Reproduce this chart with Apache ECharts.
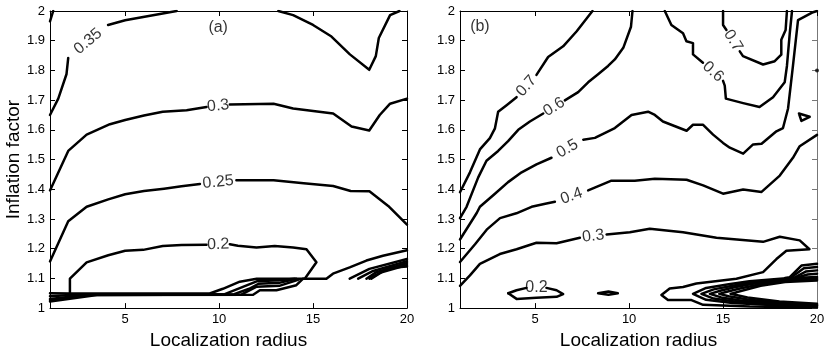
<!DOCTYPE html>
<html>
<head>
<meta charset="utf-8">
<script src="https://cdn.jsdelivr.net/npm/echarts@6/dist/echarts.min.js"></script>
<style>
html,body{margin:0;padding:0;background:#fff;}
#c{width:830px;height:355px;}
</style>
</head>
<body>
<div id="c"></div>
<script>
// ---- axis ticks ----
const xTicks = [5, 10, 15, 20];
const xRange = [1, 20];
const yRange = [1, 2];
const yStep = 0.1;
const xTitle = 'Localization radius';
const yTitle = 'Inflation factor';
const panelTags = ['(a)', '(b)'];
const panelTagPos = [[9.95, 1.945], [2.06, 1.947]];

// ---- panel (a) contour lines: [radius, inflation]; null marks a label gap ----
const a_040 = [[1.0,1.965],[1.17,2.0]];
const a_035 = [[1.0,1.65],[1.44,1.705],[1.88,1.788],[1.97,1.842],null,[4.09,1.953],[5.0,1.969],[5.96,1.98],[7.74,2.0]];
const a_035b = [[13.15,2.0],[13.94,1.986],[15.0,1.953],[15.98,1.914],[16.96,1.854],[17.99,1.802],[18.34,1.848],[18.5,1.909],[19.1,1.986],[19.6,2.0]];
const a_030 = [[1.0,1.396],[1.97,1.529],[2.95,1.584],[4.19,1.619],[5.0,1.633],[6.0,1.648],[7.0,1.661],[8.27,1.666],[9.33,1.677],null,[10.57,1.685],[12.9,1.688],[13.94,1.672],[16.07,1.655],[17.05,1.611],[17.99,1.598],[18.55,1.65],[19.1,1.688],[20.0,1.705]];
const a_025 = [[1.0,1.157],[1.97,1.292],[2.95,1.341],[4.1,1.366],[5.0,1.383],[6.0,1.394],[7.07,1.402],[8.0,1.41],[8.98,1.418],null,[10.92,1.43],[12.9,1.43],[14.5,1.42],[16.07,1.411],[17.0,1.394],[18.0,1.393],[19.0,1.344],[20.0,1.281]];
const a_020 = [[2.06,1.049],[2.06,1.099],[2.95,1.154],[4.1,1.178],[5.0,1.193],[5.96,1.196],[7.0,1.209],[8.0,1.212],[9.33,1.213],null,[10.57,1.215],[11.0,1.21],[11.99,1.204],[12.96,1.209],[13.94,1.204],[14.65,1.198],[15.18,1.154],[14.56,1.099]];
const a_b1 = [[1.0,1.05],[2.1,1.049],[9.5,1.049],[10.2,1.065],[11.1,1.089],[12.0,1.099],[15.71,1.099],[16.06,1.116],[16.95,1.137],[17.84,1.16],[18.72,1.176],[20.0,1.195]];
const a_b2 = [[1.0,1.04],[2.5,1.046],[10.3,1.047],[11.2,1.07],[12.0,1.09],[13.2,1.094],[14.0,1.099]];
const a_b3 = [[1.0,1.031],[3.0,1.045],[10.8,1.047],[11.6,1.065],[12.1,1.082],[13.2,1.085],[14.1,1.099]];
const a_b4 = [[1.0,1.022],[3.5,1.044],[11.2,1.046],[12.0,1.072],[13.2,1.075],[14.2,1.095]];
const a_b5 = [[1.0,1.027],[3.2,1.044],[11.81,1.045],[12.17,1.06],[13.05,1.06],[14.11,1.077],[14.47,1.099]];
const a_f1 = [[16.95,1.099],[18.0,1.132],[20.0,1.165]];
const a_f2 = [[17.4,1.099],[18.2,1.125],[20.0,1.158]];
const a_f3 = [[17.84,1.099],[18.37,1.121],[20.0,1.152]];
const a_f4 = [[18.0,1.099],[18.6,1.12],[20.0,1.145]];
const a_f5 = [[18.1,1.099],[19.0,1.135],[20.0,1.14]];

// ---- panel (b) contour lines ----
const b_070 = [[1.0,1.39],[1.53,1.457],[2.06,1.534],[2.59,1.572],[2.86,1.605],[3.03,1.661],[3.48,1.683],[4.01,1.71],null,[5.07,1.785],[5.69,1.845],[6.49,1.881],[7.2,1.931],[8.05,2.0]];
const b_060 = [[1.0,1.303],[1.35,1.341],[1.97,1.44],[2.41,1.496],[3.03,1.529],[3.56,1.562],[4.1,1.6],[4.72,1.628],[5.43,1.655],null,[6.58,1.699],[7.29,1.727],[7.82,1.76],[8.35,1.787],[8.88,1.815],[9.24,1.837],[9.69,1.876],[10.1,1.947],[10.18,2.0]];
const b_050 = [[1.0,1.231],[1.89,1.32],[2.06,1.341],[2.86,1.385],[3.56,1.424],[4.28,1.457],[5.07,1.484],[5.87,1.506],null,[7.56,1.567],[8.18,1.573],[9.24,1.606],[10.13,1.65],[11.01,1.661],[11.37,1.65],[11.8,1.628],[13.06,1.597],[13.4,1.617],[13.94,1.617],[14.47,1.584],[15.0,1.556],[15.36,1.54],[16.07,1.52],[16.6,1.551],[17.05,1.553],[17.84,1.595],[18.19,1.606],[18.46,1.672],[18.72,1.815],[18.99,1.969],[19.79,1.996],[20.0,2.0]];
const b_040 = [[1.0,1.155],[1.8,1.215],[2.42,1.264],[3.13,1.303],[4.0,1.319],[4.81,1.341],[5.6,1.352],[6.05,1.358],null,[7.82,1.396],[9.06,1.429],[10.3,1.429],[11.37,1.435],[13.06,1.432],[13.94,1.413],[15.0,1.385],[16.07,1.399],[17.05,1.391],[18.02,1.446],[18.72,1.506],[19.08,1.545],[20.0,1.583]];
const b_030 = [[1.0,1.075],[1.53,1.11],[2.06,1.149],[3.12,1.182],[4.01,1.198],[5.07,1.22],[6.14,1.218],[7.38,1.237],null,[8.8,1.248],[10.04,1.255],[11.1,1.267],[12.87,1.255],[14.65,1.237],[17.13,1.223],[18.02,1.24],[19.08,1.228],[19.6,1.198],[18.37,1.193],[17.84,1.165],[17.13,1.121],[15.71,1.099],[13.58,1.083],[12.87,1.071],[12.16,1.066],[11.72,1.044],[12.07,1.027],[13.32,1.027],[13.94,1.011],[16.42,1.005],[20.0,1.002]];
const b_020 = [[3.57,1.05],[4.01,1.06],[4.54,1.068],null,[5.6,1.068],[6.14,1.06],[6.49,1.047],[6.14,1.038],[5.07,1.035],[4.01,1.031],[3.57,1.05]];
const b_blob = [[8.35,1.05],[8.9,1.056],[9.4,1.05],[8.9,1.045],[8.35,1.05]];
const b_070r = [[15.0,2.0],[15.0,1.953],[15.18,1.936],null,[15.89,1.864],[16.06,1.848],[17.13,1.82],[17.75,1.831],[18.1,1.853],[18.1,1.903],[18.33,1.936],[18.4,2.0]];
const b_060r = [[11.9,2.0],[12.25,1.953],[12.87,1.925],[13.05,1.898],[13.4,1.892],[13.4,1.854],[13.93,1.826],null,[15.0,1.765],[15.09,1.749],[15.15,1.705],[16.07,1.69],[16.94,1.677],[17.66,1.71],[18.28,1.76],[18.4,1.815],[18.55,1.925],[18.67,2.0]];
const b_tri = [[19.04,1.655],[19.61,1.644],[19.17,1.63],[19.04,1.655]];
const b_dot = [[20.0,1.8]];
const b_v1 = [[20,1.105],[18.2,1.1],[16.4,1.09],[15.3,1.08],[14.1,1.068],[13.4,1.048],[14.1,1.028],[15.5,1.017],[17.3,1.011],[20,1.006]];
const b_v2 = [[20,1.102],[18.2,1.097],[16.5,1.086],[15.5,1.075],[14.5,1.063],[13.85,1.048],[14.5,1.032],[15.7,1.021],[17.5,1.013],[20,1.008]];
const b_v3 = [[20,1.099],[18.2,1.094],[16.6,1.082],[15.6,1.07],[14.9,1.059],[14.3,1.048],[14.9,1.036],[16.0,1.025],[17.7,1.015],[20,1.01]];
const b_v4 = [[20,1.096],[18.2,1.091],[16.8,1.078],[15.9,1.066],[15.2,1.055],[14.8,1.048],[15.3,1.04],[16.3,1.029],[17.9,1.018],[20,1.012]];
const b_v5 = [[20,1.093],[18.3,1.088],[17.0,1.075],[16.2,1.062],[15.4,1.048],[16.3,1.036],[18.0,1.022],[20,1.015]];
const b_f1 = [[18.3,1.101],[18.55,1.104],[19.17,1.143],[20,1.149]];
const b_f2 = [[18.6,1.102],[19.3,1.134],[20,1.138]];
const b_f3 = [[18.8,1.103],[19.4,1.123],[20,1.127]];
const b_f4 = [[19.0,1.104],[19.5,1.113],[20,1.116]];

// contour lines per panel, with their level label (shown at the gap) or '' when unlabelled
const panelA = [[a_040,''],[a_035,'0.35'],[a_035b,''],[a_030,'0.3'],[a_025,'0.25'],[a_020,'0.2'],
  [a_b1,''],[a_b2,''],[a_b3,''],[a_b4,''],[a_b5,''],[a_f1,''],[a_f2,''],[a_f3,''],[a_f4,''],[a_f5,'']];
const panelB = [[b_070,'0.7'],[b_060,'0.6'],[b_050,'0.5'],[b_040,'0.4'],[b_030,'0.3'],[b_020,'0.2'],
  [b_blob,''],[b_070r,'0.7'],[b_060r,'0.6'],[b_tri,''],
  [b_v1,''],[b_v2,''],[b_v3,''],[b_v4,''],[b_v5,''],[b_f1,''],[b_f2,''],[b_f3,''],[b_f4,'']];

// ---- layout ----
const FONT = 'Liberation Sans, Arial, Helvetica, sans-serif';
const grids = [
  {left: 50, top: 11, width: 357, height: 302},
  {left: 460, top: 11, width: 357, height: 302}
];

function fmtY(v){ return String(Math.round(v * 10) / 10); }

const xAxes = [], yAxes = [];
grids.forEach((g, gi) => {
  xAxes.push({
    type: 'value', gridIndex: gi, min: xRange[0], max: xRange[1], position: 'bottom',
    name: xTitle, nameLocation: 'middle', nameGap: 17,
    nameTextStyle: {fontSize: 19, color: '#000', fontFamily: FONT},
    axisLine: {show: true, onZero: false, lineStyle: {color: '#000', width: 1}},
    axisTick: {show: true, inside: true, length: 5, customValues: xTicks, lineStyle: {color: '#000'}},
    axisLabel: {show: true, customValues: xTicks, fontSize: 13, color: '#000', fontFamily: FONT, margin: 5},
    splitLine: {show: false}
  });
  xAxes.push({
    type: 'value', gridIndex: gi, min: xRange[0], max: xRange[1], position: 'top',
    axisLine: {show: true, onZero: false, lineStyle: {color: '#000', width: 1}},
    axisTick: {show: true, inside: true, length: 5, customValues: xTicks, lineStyle: {color: '#000'}},
    axisLabel: {show: false, customValues: xTicks},
    splitLine: {show: false}
  });
  yAxes.push({
    type: 'value', gridIndex: gi, min: yRange[0], max: yRange[1], interval: yStep, position: 'left',
    name: gi === 0 ? yTitle : '', nameLocation: 'middle', nameGap: 26,
    nameTextStyle: {fontSize: 19, color: '#000', fontFamily: FONT},
    axisLine: {show: true, onZero: false, lineStyle: {color: '#000', width: 1}},
    axisTick: {show: true, inside: true, length: 5, lineStyle: {color: '#000'}},
    axisLabel: {show: true, fontSize: 13, color: '#000', fontFamily: FONT, margin: 5, formatter: fmtY},
    splitLine: {show: false}
  });
  yAxes.push({
    type: 'value', gridIndex: gi, min: yRange[0], max: yRange[1], interval: yStep, position: 'right',
    axisLine: {show: true, onZero: false, lineStyle: {color: gi === 1 ? '#777' : '#000', width: 1}},
    axisTick: {show: true, inside: true, length: 5, lineStyle: {color: gi === 1 ? '#777' : '#000'}},
    axisLabel: {show: false},
    splitLine: {show: false}
  });
});

const series = [];
[panelA, panelB].forEach((panel, pi) => {
  const g = grids[pi];
  const sx = g.width / (xRange[1] - xRange[0]);
  const sy = g.height / (yRange[1] - yRange[0]);
  const axIdx = pi * 2;
  const labels = [];
  panel.forEach(([pts, level]) => {
    let seg = [];
    for (let i = 0; i < pts.length; i++) {
      const p = pts[i];
      if (p === null) {
        if (seg.length) series.push(lineSeries(seg, axIdx));
        seg = [];
        if (level) {
          const a = pts[i - 1], b = pts[i + 1];
          let ang = Math.atan2((b[1] - a[1]) * sy, (b[0] - a[0]) * sx) * 180 / Math.PI;
          if (ang > 90) ang -= 180;
          if (ang < -90) ang += 180;
          labels.push({value: [(a[0] + b[0]) / 2, (a[1] + b[1]) / 2], text: level, rot: ang});
        }
      } else {
        seg.push(p);
      }
    }
    if (seg.length) series.push(lineSeries(seg, axIdx));
  });
  series.push({
    type: 'scatter', xAxisIndex: axIdx, yAxisIndex: axIdx, symbolSize: 0, silent: true,
    animation: false, z: 5,
    data: labels.map(l => ({
      value: l.value,
      label: {show: true, position: 'inside', formatter: l.text, rotate: l.rot,
              fontSize: 16, color: '#000', fontFamily: FONT}
    }))
  });
  series.push({
    type: 'scatter', xAxisIndex: axIdx, yAxisIndex: axIdx, symbolSize: 0, silent: true,
    animation: false, z: 5,
    data: [{value: panelTagPos[pi], label: {show: true, position: 'inside', formatter: panelTags[pi],
            fontSize: 16, color: '#000', fontFamily: FONT}}]
  });
});
series.push({
  type: 'scatter', xAxisIndex: 2, yAxisIndex: 2, symbolSize: 4, clip: false, silent: true,
  animation: false, itemStyle: {color: '#000'}, data: b_dot
});

function lineSeries(seg, axIdx) {
  return {
    type: 'line', xAxisIndex: axIdx, yAxisIndex: axIdx, data: seg, showSymbol: false, symbol: 'none',
    silent: true, animation: false, clip: true,
    lineStyle: {color: '#000', width: 2.5, join: 'round', cap: 'round'}
  };
}

const chart = echarts.init(document.getElementById('c'), null, {renderer: 'canvas'});
chart.setOption({
  backgroundColor: '#fff',
  animation: false,
  grid: grids.map(g => Object.assign({containLabel: false}, g)),
  xAxis: xAxes,
  yAxis: yAxes,
  series: series
});
</script>
</body>
</html>
